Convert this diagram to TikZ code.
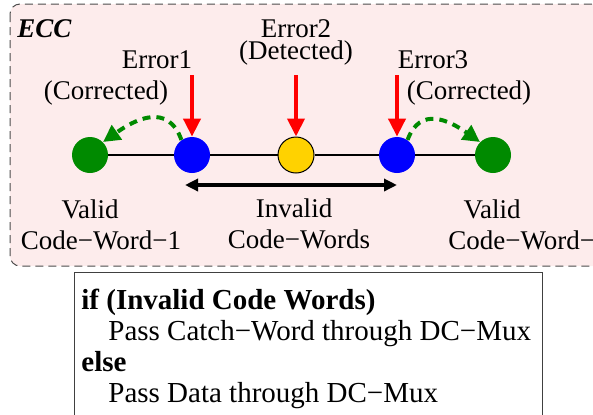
\documentclass[tikz,border=0pt]{standalone}
\usepackage{fontspec}
\setmainfont{Liberation Serif}
\usetikzlibrary{arrows.meta}
\definecolor{eccpink}{RGB}{253,236,236}
\definecolor{cwgreen}{RGB}{0,138,0}
\definecolor{errgold}{RGB}{255,210,0}

\begin{document}
\begin{tikzpicture}[x=0.5pt,y=0.5pt,
  every node/.style={font=\fontsize{13.5}{16}\selectfont},
  word/.style={circle,minimum size=18pt,inner sep=0pt},
  lbl/.style={anchor=base,inner sep=0pt},
  hitarrow/.style={draw=red,line width=2pt,-{Triangle[length=9pt,width=8.5pt]}},
  fixarrow/.style={draw=cwgreen,line width=2pt,dash pattern=on 4pt off 3pt,-{Triangle[length=8.5pt,width=8.5pt]}},
  spanarrow/.style={line width=1.8pt,{Triangle[length=6.5pt,width=6pt]}-{Triangle[length=6.5pt,width=6pt]}}]
\clip (0,0) rectangle (593,-414);

% ECC region
\draw[fill=eccpink,draw=black!70,line width=0.5pt,dash pattern=on 4pt off 2.5pt,rounded corners=5pt]
  (10,-4) rectangle (603,-266);
\node[anchor=base west,inner sep=0pt] (ecc) at (17,-37) {\bfseries\itshape ECC};

% code words
\node[word,fill=cwgreen] (V1) at (90,-155) {};
\node[word,fill=blue] (E1) at (192,-155) {};
\node[word,fill=errgold,draw=black,line width=0.5pt] (E2) at (296,-155) {};
\node[word,fill=blue] (E3) at (397,-155) {};
\node[word,fill=cwgreen] (V2) at (493,-155) {};
\draw[line width=0.6pt] (V1) -- (E1) -- (E2) -- (E3) -- (V2);

% errors
\coordinate (h1) at (192,-75);
\coordinate (h2) at (296,-75);
\coordinate (h3) at (397,-75);
\draw[hitarrow] (h1) -- (E1);
\draw[hitarrow] (h2) -- (E2);
\draw[hitarrow] (h3) -- (E3);
\draw[fixarrow] (E1.125) to[out=110,in=35,looseness=1.3] (V1.45);
\draw[fixarrow] (E3.55) to[out=70,in=145,looseness=1.3] (V2.135);

\coordinate (inl) at (185,-185);
\coordinate (inr) at (397,-185);
\draw[spanarrow] (inl) -- (inr);

% labels
\node[lbl] (err2) at (296,-37) {Error2};
\node[lbl] (det2) at (296,-59) {(Detected)};
\node[lbl] (err1) at (157,-68) {Error1};
\node[lbl] (cor1) at (106,-99) {(Corrected)};
\node[lbl] (err3) at (433,-68) {Error3};
\node[lbl] (cor3) at (469,-99) {(Corrected)};
\node[lbl] (val1) at (90,-218) {Valid};
\node[lbl] (cw1) at (101,-249) {Code−Word−1};
\node[lbl] (inv) at (294,-217) {Invalid};
\node[lbl] (cws) at (299,-248) {Code−Words};
\node[lbl] (val2) at (492,-218) {Valid};
\node[anchor=base west,inner sep=0pt] (cw2) at (448,-249) {Code−Word−2};

% DC-Mux rule
\draw[draw=black!75,line width=0.5pt] (74,-272) rectangle (542,-440);
\begin{scope}[every node/.style={anchor=base west,inner sep=0pt,font=\fontsize{14.5}{17}\selectfont}]
\node (ifl) at (81,-309) {\bfseries if (Invalid Code Words)};
\node (catch) at (108,-340) {Pass Catch−Word through DC−Mux};
\node (elsel) at (81,-371) {\bfseries else};
\node (data) at (108,-402) {Pass Data through DC−Mux};
\end{scope}
\end{tikzpicture}
\end{document}
